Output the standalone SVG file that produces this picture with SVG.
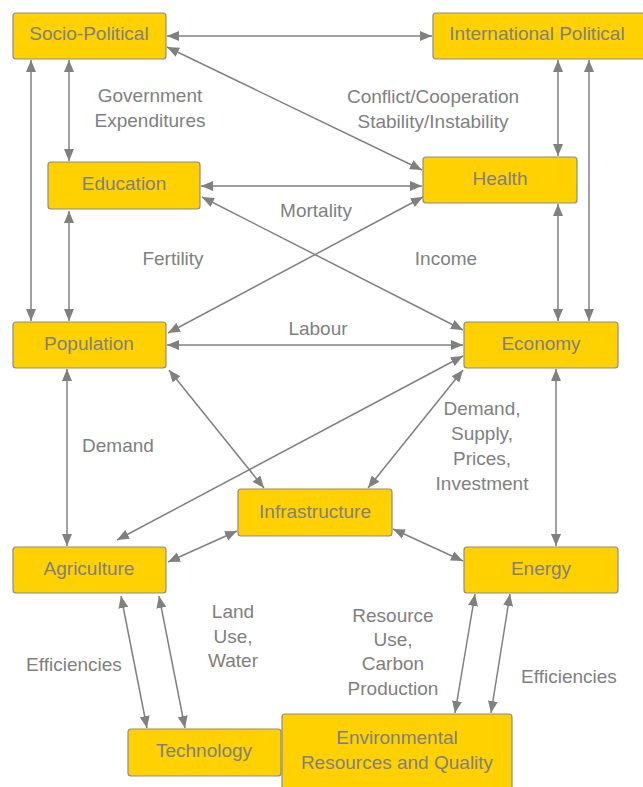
<svg xmlns="http://www.w3.org/2000/svg" width="643" height="787" viewBox="0 0 643 787">
<style>
.node rect{fill:#FFD100;stroke:#8C8C8C;stroke-width:1.2}
text{font-family:"Liberation Sans",Arial,sans-serif;font-size:19px;fill:#808080;text-anchor:middle}
.conn line{stroke:#808080;stroke-width:1.5;marker-start:url(#ah);marker-end:url(#ah)}
</style>
<defs>
<marker id="ah" markerUnits="userSpaceOnUse" markerWidth="12" markerHeight="12" viewBox="0 0 12 12" refX="12" refY="6" orient="auto-start-reverse">
<path d="M0,1 L12,6 L0,11 z" fill="#808080"/>
</marker>
</defs>
<rect width="643" height="787" fill="#fff"/>
<g class="conn" id="connectors">
<line x1="167" y1="36" x2="432" y2="36"/>
<line x1="167" y1="47" x2="422" y2="170"/>
<line x1="69" y1="60" x2="69" y2="161"/>
<line x1="31" y1="60" x2="31" y2="321"/>
<line x1="558" y1="60" x2="558" y2="156"/>
<line x1="589" y1="60" x2="589" y2="321"/>
<line x1="201" y1="186" x2="422" y2="186"/>
<line x1="202" y1="197" x2="463" y2="330"/>
<line x1="423" y1="197" x2="168" y2="333"/>
<line x1="69" y1="211" x2="69" y2="321"/>
<line x1="558" y1="204" x2="558" y2="321"/>
<line x1="167" y1="345" x2="463" y2="345"/>
<line x1="67" y1="369" x2="67" y2="546"/>
<line x1="169" y1="370" x2="264" y2="488"/>
<line x1="463" y1="356" x2="117" y2="540"/>
<line x1="463" y1="370" x2="368" y2="488"/>
<line x1="556" y1="369" x2="556" y2="546"/>
<line x1="237" y1="531" x2="168" y2="562"/>
<line x1="393" y1="529" x2="463" y2="561"/>
<line x1="121" y1="596" x2="147" y2="728"/>
<line x1="159" y1="596" x2="185" y2="728"/>
<line x1="475" y1="594" x2="455" y2="713"/>
<line x1="510" y1="594" x2="491" y2="713"/>
</g>
<g id="labels">
<text x="150" y="102">Government</text>
<text x="150" y="127">Expenditures</text>
<text x="433" y="103">Conflict/Cooperation</text>
<text x="433" y="128">Stability/Instability</text>
<text x="316" y="217">Mortality</text>
<text x="173" y="265">Fertility</text>
<text x="446" y="265">Income</text>
<text x="318" y="335">Labour</text>
<text x="118" y="452">Demand</text>
<text x="482" y="415">Demand,</text>
<text x="482" y="440">Supply,</text>
<text x="482" y="465">Prices,</text>
<text x="482" y="490">Investment</text>
<text x="233" y="618">Land</text>
<text x="233" y="643">Use,</text>
<text x="233" y="667">Water</text>
<text x="74" y="671">Efficiencies</text>
<text x="393" y="622">Resource</text>
<text x="393" y="646">Use,</text>
<text x="393" y="670">Carbon</text>
<text x="393" y="695">Production</text>
<text x="569" y="683">Efficiencies</text>
</g>
<g class="node" id="socio-political"><rect x="13" y="13" width="153" height="46" rx="3"/><text x="89" y="40">Socio-Political</text></g>
<g class="node" id="international-political"><rect x="433" y="13" width="212" height="46" rx="3"/><text x="537" y="40">International Political</text></g>
<g class="node" id="education"><rect x="48" y="162" width="152" height="47" rx="3"/><text x="124" y="190">Education</text></g>
<g class="node" id="health"><rect x="423" y="157" width="154" height="46" rx="3"/><text x="500" y="185">Health</text></g>
<g class="node" id="population"><rect x="13" y="322" width="153" height="46" rx="3"/><text x="89" y="350">Population</text></g>
<g class="node" id="economy"><rect x="464" y="322" width="154" height="46" rx="3"/><text x="541" y="350">Economy</text></g>
<g class="node" id="infrastructure"><rect x="238" y="489" width="154" height="47" rx="3"/><text x="315" y="518">Infrastructure</text></g>
<g class="node" id="agriculture"><rect x="13" y="547" width="153" height="46" rx="3"/><text x="89" y="575">Agriculture</text></g>
<g class="node" id="energy"><rect x="464" y="547" width="154" height="46" rx="3"/><text x="541" y="575">Energy</text></g>
<g class="node" id="technology"><rect x="128" y="729" width="153" height="47" rx="3"/><text x="204" y="757">Technology</text></g>
<g class="node" id="environmental"><rect x="282" y="714" width="230" height="80" rx="3"/><text x="397" y="744">Environmental</text><text x="397" y="769">Resources and Quality</text></g>
</svg>
